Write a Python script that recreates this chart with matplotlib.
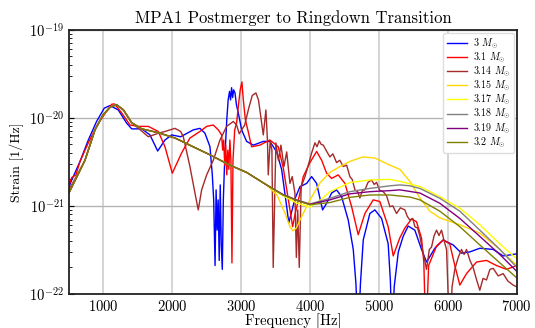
import numpy as np
import matplotlib
matplotlib.use('Agg')
import matplotlib.pyplot as plt
from matplotlib.ticker import FixedLocator, LogLocator, NullFormatter

plt.rcParams['font.family'] = 'serif'
plt.rcParams['font.serif'] = ['cmr10', 'DejaVu Serif']
plt.rcParams['mathtext.fontset'] = 'cm'
plt.rcParams['axes.formatter.use_mathtext'] = True

# shared low-frequency part of the smooth spectra
COMMON_F = [500, 732, 877, 993, 1100, 1190, 1290, 1410, 1555, 1790, 2038, 2546, 2836, 3078, 3368]
COMMON_S = [1.41e-21, 3.3e-21, 7.3e-21, 1.08e-20, 1.33e-20, 1.41e-20, 1.23e-20, 8.8e-21, 7.5e-21,
            6.8e-21, 5.9e-21, 3.8e-21, 2.9e-21, 2.4e-21, 1.73e-21]

# 3 Msun
F_300 = [500, 540, 660, 780, 900, 1012, 1095, 1215, 1337, 1410, 1555, 1675, 1787, 1893, 1990, 2120,
         2304, 2400, 2473, 2546, 2580, 2600, 2620, 2635, 2650, 2665, 2680, 2695, 2710, 2725, 2740,
         2755, 2770, 2790, 2810, 2830, 2845, 2860, 2875, 2890, 2909, 2930, 2957, 3006, 3078, 3176,
         3320, 3416, 3514, 3586, 3659, 3690, 3779, 3852, 3949, 4022, 4094, 4181, 4239, 4312, 4384,
         4457, 4553, 4626, 4665, 4698, 4730, 4771, 4867, 4940, 5037, 5133, 5165, 5190, 5220, 5280,
         5350, 5423, 5520, 5617, 5690, 5810, 5931, 6076, 6197, 6318, 6463, 6657, 6802, 7000]
S_300 = [1.64e-21, 1.97e-21, 3.2e-21, 5.6e-21, 9.1e-21, 1.29e-20, 1.38e-20, 1.23e-20, 8.7e-21,
         7.5e-21, 7.5e-21, 6.4e-21, 4.2e-21, 5.6e-21, 6.4e-21, 6.1e-21, 7.3e-21, 7.6e-21, 6.7e-21,
         4.7e-21, 2.25e-21, 1.17e-21, 2.1e-22, 1.52e-21, 5.3e-22, 1.17e-21, 2.4e-22, 1.73e-21,
         3.6e-22, 1.9e-22, 1.17e-21, 2.6e-21, 4.7e-21, 9.5e-21, 1.6e-20, 2.0e-20, 1.6e-20, 2.2e-20,
         1.7e-20, 2.08e-20, 1.92e-20, 1.41e-20, 1.14e-20, 7.3e-21, 5.4e-21, 4.9e-21, 5.4e-21,
         5.4e-21, 4.1e-21, 2.6e-21, 9.9e-22, 6.4e-22, 1.2e-21, 1.65e-21, 1.8e-21, 2.15e-21, 1.8e-21,
         9.0e-22, 1.07e-21, 1.4e-21, 1.52e-21, 1.27e-21, 6.9e-22, 3.2e-22, 1.3e-22, 3e-23, 1.3e-22,
         4.1e-22, 8.2e-22, 9.0e-22, 7.2e-22, 3.7e-22, 1.4e-22, 3e-23, 1.2e-22, 3.0e-22, 4.5e-22,
         5.9e-22, 5.3e-22, 3.2e-22, 2.3e-22, 3.3e-22, 4.1e-22, 3.6e-22, 2.9e-22, 3.0e-22, 3.3e-22,
         3.2e-22, 2.7e-22, 2.85e-22]

# 3.1 Msun
F_310 = [500, 540, 600, 660, 780, 910, 1030, 1120, 1160, 1264, 1385, 1506, 1651, 1796, 1893, 1999,
         2135, 2255, 2400, 2498, 2594, 2667, 2715, 2730, 2745, 2760, 2775, 2790, 2805, 2820, 2835,
         2850, 2865, 2880, 2905, 2933, 2960, 2985, 3010, 3030, 3060, 3101, 3150, 3271, 3416, 3537,
         3610, 3682, 3746, 3779, 3852, 3900, 3997, 4094, 4167, 4239, 4312, 4408, 4505, 4602, 4698,
         4795, 4916, 5012, 5133, 5206, 5300, 5375, 5472, 5544, 5617, 5650, 5680, 5720, 5835, 5931,
         6027, 6100, 6173, 6270, 6415, 6560, 6705, 6850, 7000]
S_310 = [1.73e-21, 2.1e-21, 2.25e-21, 3.2e-21, 5.2e-21, 8.3e-21, 1.14e-20, 1.43e-20, 1.44e-20,
         1.14e-20, 8.3e-21, 8.0e-21, 8.0e-21, 7.0e-21, 4.7e-21, 2.35e-21, 4.0e-21, 5.9e-21, 7.0e-21,
         8.0e-21, 8.3e-21, 7.3e-21, 6.4e-21, 4.3e-21, 5.6e-21, 2.9e-21, 4.9e-21, 2.25e-21, 4.3e-21,
         2.6e-21, 5.6e-21, 3.3e-21, 2.25e-22, 3.3e-21, 7.3e-21, 8.8e-21, 1.41e-20, 2.08e-20,
         2.56e-20, 1.6e-20, 9.5e-21, 7.0e-21, 4.7e-21, 4.9e-21, 5.6e-21, 4.7e-21, 2.7e-21, 1.2e-21,
         5.8e-22, 7.9e-22, 1.4e-21, 2.15e-21, 3.1e-21, 4.15e-21, 3.3e-21, 2.35e-21, 2.05e-21,
         2.25e-21, 1.8e-21, 9.8e-22, 4.7e-22, 8.2e-22, 1.17e-21, 1.12e-21, 5.8e-22, 2.7e-22,
         4.3e-22, 5.6e-22, 7.1e-22, 6.6e-22, 4.3e-22, 2.3e-22, 3e-23, 2.1e-22, 3.5e-22, 4.1e-22,
         3.7e-22, 2.1e-22, 1.26e-22, 1.7e-22, 2.3e-22, 2.4e-22, 2.1e-22, 1.9e-22, 2.1e-22]

# 3.14 Msun
F_314 = [500, 732, 877, 993, 1100, 1190, 1290, 1410, 1500, 1651, 1800, 1893, 2038, 2120, 2159, 2255,
         2328, 2376, 2425, 2498, 2594, 2691, 2788, 2884, 2933, 2971, 3050, 3110, 3160, 3213, 3250,
         3290, 3320, 3358, 3380, 3392, 3420, 3445, 3464, 3503, 3540, 3576, 3620, 3660, 3707, 3740,
         3779, 3800, 3820, 3842, 3870, 3925, 3973, 4022, 4070, 4100, 4132, 4160, 4191, 4230, 4287,
         4330, 4384, 4430, 4481, 4530, 4577, 4610, 4650, 4690, 4722, 4760, 4795, 4840, 4892, 4930,
         4964, 5010, 5061, 5110, 5158, 5200, 5254, 5310, 5375, 5410, 5448, 5490, 5520, 5560, 5593,
         5641, 5690, 5730, 5762, 5800, 5835, 5870, 5907, 5945, 5980, 6027, 6060, 6100, 6150, 6197,
         6235, 6270, 6320, 6366, 6410, 6463, 6510, 6560, 6610, 6657, 6730, 6802, 6870, 6947, 7000]
S_314 = [1.52e-21, 3.3e-21, 7.3e-21, 1.08e-20, 1.33e-20, 1.41e-20, 1.23e-20, 8.8e-21, 7.7e-21,
         6.1e-21, 6.7e-21, 7.0e-21, 7.6e-21, 7.0e-21, 6.1e-21, 2.8e-21, 1.4e-21, 9.0e-22, 1.52e-21,
         2.25e-21, 3.3e-21, 5.6e-21, 8.0e-21, 9.1e-21, 8.3e-21, 6.6e-21, 8.3e-21, 1.3e-20, 1.8e-20,
         1.92e-20, 1.6e-20, 9.5e-21, 6.4e-21, 1.23e-20, 5.6e-21, 2.25e-21, 5.4e-21, 4.3e-21,
         2.0e-22, 5.2e-21, 3.3e-21, 4.9e-21, 2.8e-21, 4.1e-21, 1.8e-21, 2.15e-21, 1.4e-21, 2.6e-22,
         9.0e-22, 2.0e-22, 1.65e-21, 2.15e-21, 2.9e-21, 4.0e-21, 5.2e-21, 4.7e-21, 5.5e-21, 5.0e-21,
         4.9e-21, 4.3e-21, 3.6e-21, 3.9e-21, 3.1e-21, 3.3e-21, 2.8e-21, 2.9e-21, 2.15e-21, 2.0e-21,
         1.52e-21, 1.45e-21, 1.23e-21, 1.5e-21, 1.52e-21, 1.85e-21, 1.97e-21, 1.75e-21, 1.85e-21,
         1.5e-21, 1.45e-21, 1.3e-21, 9.8e-22, 1.0e-21, 8.2e-22, 9.5e-22, 9.0e-22, 7.6e-22, 6.9e-22,
         7.2e-22, 5.8e-22, 5.6e-22, 4.5e-22, 2.9e-22, 1.9e-22, 3.2e-22, 3.4e-22, 4.6e-22, 5.3e-22,
         4.6e-22, 5.3e-22, 4.0e-22, 3.2e-22, 3e-23, 1.2e-22, 1.9e-22, 2.6e-22, 3.2e-22, 2.8e-22,
         3.2e-22, 2.4e-22, 2.0e-22, 1.5e-22, 1.1e-22, 1.5e-22, 1.44e-22, 1.9e-22, 1.95e-22,
         1.6e-22, 1.7e-22, 1.4e-22, 1.26e-22, 1.2e-22]

# 3.15 Msun, after it leaves the common curve
F_315 = [3518, 3634, 3707, 3750, 3800, 3852, 3997, 4142, 4287, 4432, 4577, 4766, 4940, 5158, 5303,
         5448, 5593, 5738, 5883, 6173, 6463, 6754, 7000]
S_315 = [1.33e-21, 8.3e-22, 5.8e-22, 5.2e-22, 5.6e-22, 6.9e-22, 1.17e-21, 1.82e-21, 2.4e-21, 2.8e-21,
         3.2e-21, 3.6e-21, 3.5e-21, 2.9e-21, 2.6e-21, 1.9e-21, 1.23e-21, 8.7e-22, 7.3e-22, 6.1e-22,
         4.9e-22, 3.2e-22, 2.1e-22]

# high-frequency tails of the remaining smooth spectra
TAIL_F_317 = [3605, 3804, 3997, 4142, 4287, 4577, 4867, 5158, 5303, 5593, 5883, 6173, 6463, 6754, 7000]
TAIL_S_317 = [1.3e-21, 1.08e-21, 9.7e-22, 1.15e-21, 1.45e-21, 1.84e-21, 1.97e-21, 2.0e-21, 1.9e-21,
              1.66e-21, 1.27e-21, 9.4e-22, 6.1e-22, 3.7e-22, 2.5e-22]
TAIL_F_318 = [3605, 3804, 3997, 4287, 4577, 4867, 5158, 5303, 5448, 5593, 5883, 6173, 6463, 6754, 7000]
TAIL_S_318 = [1.35e-21, 1.17e-21, 1.05e-21, 1.22e-21, 1.45e-21, 1.58e-21, 1.69e-21, 1.73e-21, 1.69e-21,
              1.58e-21, 1.22e-21, 8.7e-22, 5.3e-22, 3.2e-22, 2.0e-22]
TAIL_F_319 = [3605, 3804, 3997, 4287, 4577, 4867, 5158, 5303, 5593, 5883, 6173, 6463, 6754, 7000]
TAIL_S_319 = [1.34e-21, 1.16e-21, 1.04e-21, 1.17e-21, 1.37e-21, 1.45e-21, 1.49e-21, 1.52e-21,
              1.40e-21, 1.07e-21, 7.2e-22, 4.5e-22, 2.8e-22, 1.8e-22]
TAIL_F_320 = [3605, 3804, 3997, 4287, 4577, 4867, 5158, 5448, 5593, 5883, 6173, 6463, 6754, 7000]
TAIL_S_320 = [1.33e-21, 1.15e-21, 1.03e-21, 1.09e-21, 1.25e-21, 1.33e-21, 1.33e-21, 1.26e-21,
              1.17e-21, 8.7e-22, 5.8e-22, 3.6e-22, 2.25e-22, 1.52e-22]

LABELS = ['3', '3.1', '3.14', '3.15', '3.17', '3.18', '3.19', '3.2']
COLORS = ['#0000ff', '#ff0000', '#a52a2a', '#ffd700', '#ffff00', '#808080', '#800080', '#808000']
Y_TICKS = [1e-22, 1e-21, 1e-20, 1e-19]
X_TICKS = [1000, 2000, 3000, 4000, 5000, 6000, 7000]

series = [
    (F_300, S_300),
    (F_310, S_310),
    (F_314, S_314),
    (COMMON_F + F_315, COMMON_S + S_315),
    (COMMON_F + TAIL_F_317, COMMON_S + TAIL_S_317),
    (COMMON_F + TAIL_F_318, COMMON_S + TAIL_S_318),
    (COMMON_F + TAIL_F_319, COMMON_S + TAIL_S_319),
    (COMMON_F + TAIL_F_320, COMMON_S + TAIL_S_320),
]

fig = plt.figure(figsize=(5.35, 3.28), dpi=100)
ax = fig.add_axes([0.129, 0.104, 0.837, 0.805])

for (f, s), lab, col in zip(series, LABELS, COLORS):
    ax.plot(f, s, color=col, lw=1.0, label=lab + r' $M_{\odot}$')

ax.set_yscale('log')
ax.set_xlim(500, 7000)
ax.set_ylim(1e-22, 1e-19)
ax.set_xticks(X_TICKS)
ax.yaxis.set_major_locator(FixedLocator(Y_TICKS))
ax.yaxis.set_minor_locator(LogLocator(base=10, subs=range(2, 10)))
ax.yaxis.set_minor_formatter(NullFormatter())
ax.xaxis.grid(True, color='#d4d4d4', lw=1.4)
ax.yaxis.grid(True, which='major', color='#b4b4b4', lw=1.0)
ax.tick_params(which='both', direction='in', labelsize=10.5)
ax.tick_params(axis='x', length=0, pad=3.5)
for sp in ax.spines.values():
    sp.set_linewidth(1.3)
    sp.set_color('#222222')

ax.set_title('MPA1 Postmerger to Ringdown Transition', fontsize=12, pad=5)
ax.set_xlabel('Frequency [Hz]', fontsize=10.5, labelpad=0)
ax.set_ylabel('Strain [1/Hz]', fontsize=10)
ax.legend(loc='upper right', fontsize=7.2, handlelength=2.0, handletextpad=0.6,
          labelspacing=0.0, borderpad=0.35, borderaxespad=0.3, framealpha=1.0,
          edgecolor='#dddddd', fancybox=True)

fig.savefig('out.png', dpi=100)
